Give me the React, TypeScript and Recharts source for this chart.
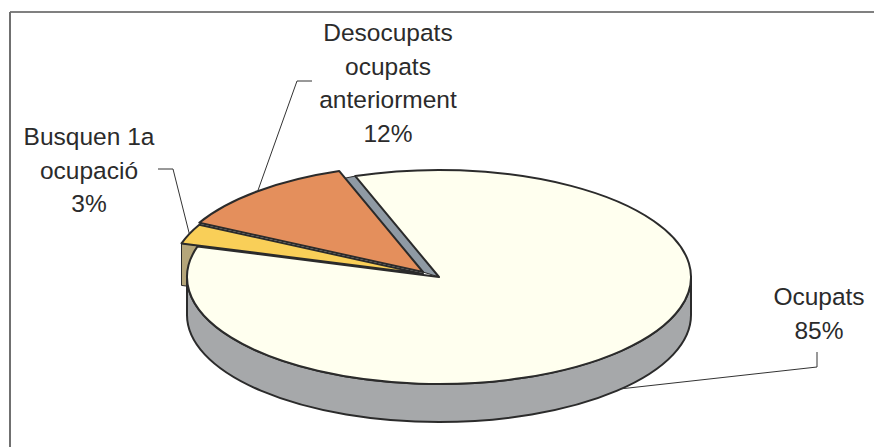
import React from 'react';
import { PieChart, Pie } from 'recharts';

const CATEGORIES = ['Busquen 1a ocupació', 'Desocupats ocupats anteriorment', 'Ocupats'];
const VALUES = [3, 12, 85];
const LABEL_LINES = [['Busquen 1a', 'ocupació'], ['Desocupats', 'ocupats', 'anteriorment'], ['Ocupats']];

const COLORS = ['#F9CF58', '#E48F5C', '#FFFFEF'];
const CUT_COLORS = ['#B5A67A', '#8F9AA4', '#A6A8AA'];
// how far each slice is pulled out of the pie
const EXPLODE = [[-16, -3], [-16, -5], [0, 0]];
// where each label sits and how its leader line bends
const LABEL_POS = [
  { x: 89, y: 145, elbow: [[173, 169], [158, 169]] },
  { x: 388, y: 41, elbow: [[297, 81], [312, 81]] },
  { x: 819, y: 305, elbow: [[817, 367], [817, 352]] },
];

const WIDTH = 874;
const HEIGHT = 447;
const SQUASH = 107 / 252;
const DEPTH = 38;
const YELLOW_DEPTH = 42;
const START = 163.4;
const RAD = Math.PI / 180;
const OUTLINE = '#2b2b2b';

const data = CATEGORIES.map((name, i) => ({ name, value: VALUES[i], index: i, fill: COLORS[i] }));

const onEllipse = (cx: number, cy: number, rx: number, angle: number) => [
  cx + rx * Math.cos(angle * RAD),
  cy - rx * SQUASH * Math.sin(angle * RAD),
];

const Slice = (props: any) => {
  const { cx, cy, outerRadius: rx, startAngle, endAngle, index, fill } = props;
  const [dx, dy] = EXPLODE[index];
  const ox = cx + dx;
  const oy = cy + dy;
  const ry = rx * SQUASH;
  const [sx, sy] = onEllipse(ox, oy, rx, startAngle);
  const [ex, ey] = onEllipse(ox, oy, rx, endAngle);
  const large = Math.abs(startAngle - endAngle) > 180 ? 1 : 0;
  const top = `M${ox},${oy} L${sx},${sy} A${rx},${ry} 0 ${large} 1 ${ex},${ey} Z`;
  const stroke = { stroke: OUTLINE, strokeWidth: 2, strokeLinejoin: 'round' as const };

  if (index === 2) {
    // the front wall, only the part of the rim that faces the viewer
    const [lx, ly] = onEllipse(ox, oy, rx, 180);
    const [rx2, ry2] = onEllipse(ox, oy, rx, 0);
    const wall = `M${lx},${ly} A${rx},${ry} 0 0 0 ${rx2},${ry2} L${rx2},${ry2 + DEPTH} A${rx},${ry} 0 0 1 ${lx},${ly + DEPTH} Z`;
    return (
      <g>
        <path d={wall} fill={CUT_COLORS[index]} {...stroke} />
        <path d={top} fill={fill} {...stroke} />
      </g>
    );
  }

  if (index === 0) {
    // tan cut face hanging under the yellow slice
    const face = `M${ox},${oy} L${sx},${sy} L${sx},${sy + YELLOW_DEPTH} L${ox},${oy + YELLOW_DEPTH} Z`;
    return (
      <g>
        <path d={face} fill={CUT_COLORS[index]} stroke={OUTLINE} strokeWidth={1} />
        <path d={top} fill={fill} {...stroke} />
      </g>
    );
  }

  // grey strip seen in the gap between the orange slice and the big slice
  const [cRimX, cRimY] = onEllipse(cx, cy, rx, endAngle);
  const gapX = ex + (ox - ex) * 0.07;
  const gapY = ey + (oy - ey) * 0.07;
  const strip = `M${gapX},${gapY} L${cRimX},${cRimY} L${cx},${cy} L${ox},${oy} Z`;
  return (
    <g>
      <path d={strip} fill={CUT_COLORS[index]} stroke={OUTLINE} strokeWidth={1} />
      <path d={top} fill={fill} {...stroke} />
    </g>
  );
};

const SliceLabel = (props: any) => {
  const { cx, cy, outerRadius, midAngle, index, value } = props;
  const pos = LABEL_POS[index];
  const [dx, dy] = EXPLODE[index];
  const [ax, ay] = onEllipse(cx + dx, cy + dy, outerRadius, midAngle);
  const start = index === 2 ? [ax, ay + DEPTH] : [ax, ay];
  const points = [start, ...pos.elbow].map((p) => p.join(',')).join(' ');
  const lines = [...LABEL_LINES[index], `${value}%`];
  return (
    <g>
      <polyline points={points} fill="none" stroke="#333" strokeWidth={1} />
      <text textAnchor="middle" fontFamily="Liberation Sans" fontSize={24.5} fill="#2b2b2b">
        {lines.map((line, i) => (
          <tspan key={line} x={pos.x} y={pos.y + i * 33.5}>{line}</tspan>
        ))}
      </text>
    </g>
  );
};

export default function App() {
  return (
    <div style={{ position: 'absolute', left: 0, top: 0, width: WIDTH, height: HEIGHT, background: '#fff' }}>
      <PieChart width={WIDTH} height={HEIGHT} margin={{ top: 0, right: 0, bottom: 0, left: 0 }}>
        <line x1={10} y1={12} x2={WIDTH} y2={12} stroke="#808080" strokeWidth={2} />
        <line x1={10} y1={12} x2={10} y2={HEIGHT} stroke="#707070" strokeWidth={2} />
        <Pie
          data={data}
          dataKey="value"
          nameKey="name"
          cx={439}
          cy={277}
          outerRadius={252}
          startAngle={START}
          endAngle={START - 360}
          stroke="none"
          shape={Slice}
          label={SliceLabel}
          labelLine={false}
          isAnimationActive={false}
        />
      </PieChart>
    </div>
  );
}
